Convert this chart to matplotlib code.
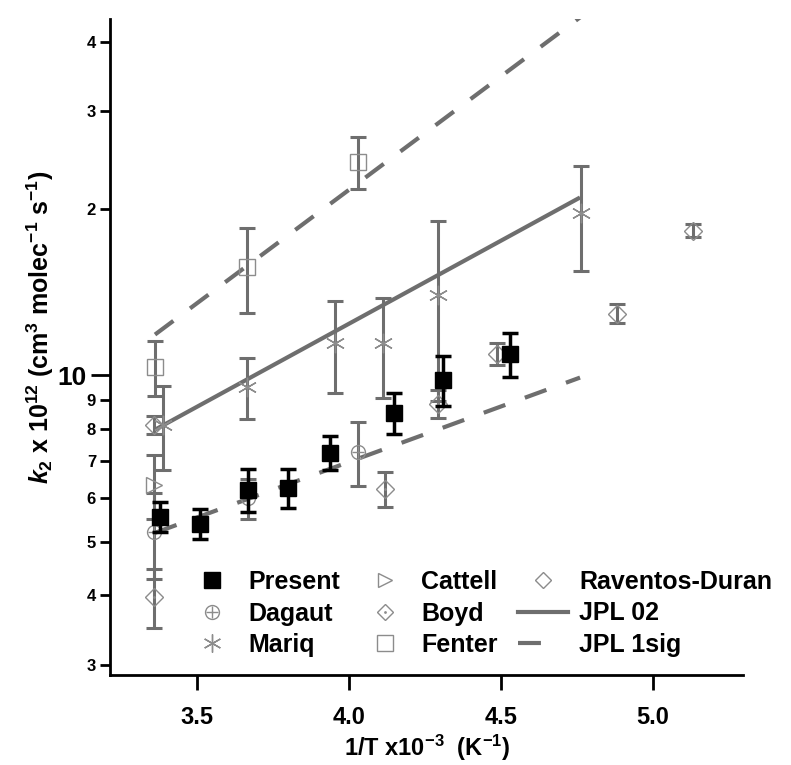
import numpy as np
import matplotlib
matplotlib.use('Agg')
import matplotlib.pyplot as plt
from matplotlib.ticker import FixedLocator, FuncFormatter
from matplotlib.lines import Line2D

plt.rcParams['font.family'] = 'Liberation Sans'
plt.rcParams['font.weight'] = 'bold'
plt.rcParams['mathtext.fontset'] = 'custom'
plt.rcParams['mathtext.rm'] = 'Liberation Sans:bold'
plt.rcParams['mathtext.it'] = 'Liberation Sans:italic:bold'
plt.rcParams['mathtext.bf'] = 'Liberation Sans:bold'

# data, 1/T (x10^-3 K^-1) and k2 (x10^-12)
present_x = [3.38, 3.51, 3.67, 3.80, 3.94, 4.15, 4.31, 4.53]
present_k = [5.55, 5.39, 6.21, 6.26, 7.24, 8.55, 9.81, 10.94]
present_err = [0.34, 0.33, 0.56, 0.51, 0.51, 0.72, 1.0, 1.0]

dagaut_x = [3.36, 3.67, 4.03]
dagaut_k = [5.21, 6.0, 7.27]
dagaut_err = [0.92, 0.5, 0.97]

mariq_x = [3.39, 3.665, 3.955, 4.113, 4.294, 4.764]
mariq_k = [8.14, 9.53, 11.45, 11.45, 13.98, 19.67]
mariq_err = [1.4, 1.2, 2.17, 2.35, 5.0, 4.23]

cattell_x = [3.36]
cattell_k = [6.34]
cattell_err = [0.84]

boyd_x = [3.36, 4.12, 4.294]
boyd_k = [3.98, 6.23, 8.88]
boyd_err = [0.49, 0.46, 0.52]

fenter_x = [3.363, 3.665, 4.031]
fenter_k = [10.36, 15.71, 24.3]
fenter_err = [1.19, 2.75, 2.65]

raventos_x = [3.36, 4.488, 4.882, 5.132]
raventos_k = [8.14, 10.94, 12.92, 18.25]
raventos_err = [0.3, 0.5, 0.5, 0.5]

jpl_x = [3.363, 4.761]
jpl_k = [7.97, 20.94]
jpl_up = [11.84, 44.3]
jpl_lo = [5.19, 9.90]

gray = '#6e6e6e'
mgray = '#8c8c8c'

fig = plt.figure(figsize=(7.91, 7.65), dpi=100)
ax = fig.add_axes([110 / 791, 1 - 675 / 765, 633 / 791, 656 / 765])

# JPL lines
ax.plot(jpl_x, jpl_k, color=gray, lw=3, solid_capstyle='butt', zorder=2)
ax.plot(jpl_x, jpl_up, color=gray, lw=3, dashes=(5.5, 5), zorder=2)
ax.plot(jpl_x, jpl_lo, color=gray, lw=3, dashes=(5.5, 5), zorder=2)

# literature data, gray
lit = [
    (dagaut_x, dagaut_k, dagaut_err, 'o', 10),
    (mariq_x, mariq_k, mariq_err, (6, 2, 0), 14),
    (cattell_x, cattell_k, cattell_err, '>', 11),
    (boyd_x, boyd_k, boyd_err, 'D', 9),
    (fenter_x, fenter_k, fenter_err, 's', 12),
    (raventos_x, raventos_k, raventos_err, 'D', 9),
]
for xs, ks, es, m, ms in lit:
    ax.errorbar(xs, ks, yerr=es, fmt='none', ecolor=gray, elinewidth=2.2,
                capsize=5.5, capthick=2.2, zorder=3)
    ax.plot(xs, ks, ls='none', marker=m, ms=ms, mfc='none', mec=mgray,
            mew=1, zorder=4)
ax.plot(dagaut_x, dagaut_k, ls='none', marker='+', ms=8, mec=mgray, mew=1, zorder=4)
ax.plot(boyd_x, boyd_k, ls='none', marker='.', ms=2, mec=mgray, zorder=4)

# present work
ax.errorbar(present_x, present_k, yerr=present_err, fmt='none', ecolor='black',
            elinewidth=2.5, capsize=6, capthick=2.5, zorder=5)
ax.plot(present_x, present_k, ls='none', marker='s', ms=11.5, color='black', zorder=6)

ax.set_yscale('log')
ax.set_ylim(2.873, 44.0)
ax.set_xlim(3.215, 5.297)
ax.yaxis.set_major_locator(FixedLocator([10]))
ax.yaxis.set_minor_locator(FixedLocator([3, 4, 5, 6, 7, 8, 9, 20, 30, 40]))
ax.yaxis.set_major_formatter(FuncFormatter(lambda v, p: '10'))
ax.yaxis.set_minor_formatter(
    FuncFormatter(lambda v, p: str(int(round(v / 10 ** np.floor(np.log10(v) + 1e-9))))))
ax.set_xticks([3.5, 4.0, 4.5, 5.0])
ax.set_xticklabels(['3.5', '4.0', '4.5', '5.0'])

ax.spines['top'].set_visible(False)
ax.spines['right'].set_visible(False)
ax.spines['left'].set_linewidth(2)
ax.spines['bottom'].set_linewidth(2)
ax.tick_params(axis='x', which='major', length=11, width=2, labelsize=17, pad=11)
ax.tick_params(axis='y', which='major', length=14, width=2, labelsize=19, pad=3)
ax.tick_params(axis='y', which='minor', length=7, width=2, labelsize=12, pad=3)

fig.text(427 / 791, 1 - 748 / 765, r'1/T x10$^{-3}$  (K$^{-1}$)', fontsize=17,
         fontweight='bold', ha='center', va='center')
fig.text(40 / 791, 1 - 327 / 765,
         r'$\mathit{k}_2$ x 10$^{12}$ (cm$^3$ molec$^{-1}$ s$^{-1}$)', fontsize=18,
         fontweight='bold', ha='center', va='center', rotation=90)

# legend
def mk(m, ms, **kw):
    return Line2D([], [], ls='none', marker=m, ms=ms, mfc='none', mec=mgray, mew=1, **kw)

h_present = Line2D([], [], ls='none', marker='s', ms=11, color='black')
h_dagaut = (mk('o', 10), mk('+', 8))
h_mariq = mk((6, 2, 0), 13)
h_cattell = mk('>', 10)
h_boyd = (mk('D', 8), mk('.', 2))
h_fenter = mk('s', 11)
h_rav = mk('D', 8)
h_jpl = Line2D([], [], color=gray, lw=3)
h_sig = Line2D([], [], color=gray, lw=3, dashes=(5.5, 8))
handles = [h_present, h_dagaut, h_mariq, h_cattell, h_boyd, h_fenter, h_rav, h_jpl, h_sig]
labels = ['Present', 'Dagaut', 'Mariq', 'Cattell', 'Boyd', 'Fenter',
          'Raventos-Duran', 'JPL 02', 'JPL 1sig']
fig.legend(handles, labels, loc='upper left', bbox_to_anchor=(187 / 791, 1 - 570 / 765),
           ncol=3, frameon=False, fontsize=18, handlelength=2.0, handletextpad=0.45,
           labelspacing=0.3, columnspacing=0.8, borderpad=0, borderaxespad=0)

fig.savefig('out.png', dpi=100)
